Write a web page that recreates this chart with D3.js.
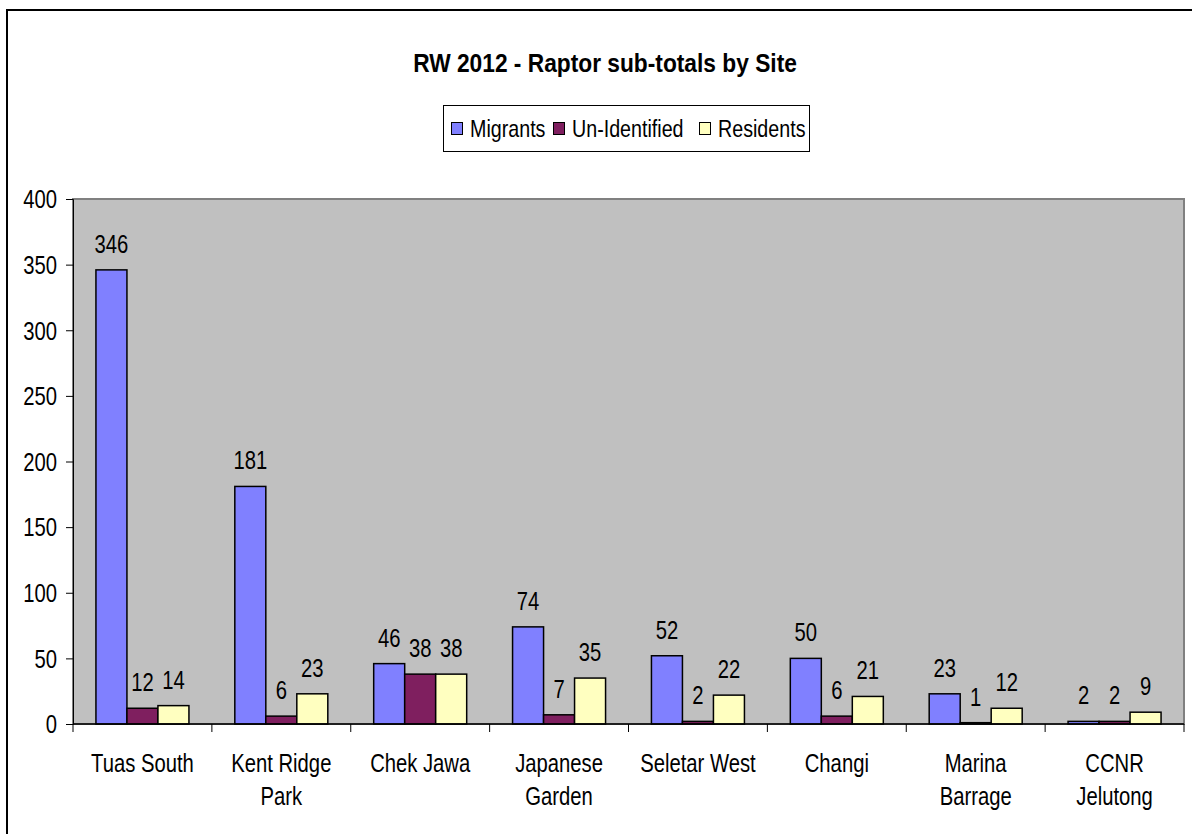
<!DOCTYPE html>
<html>
<head>
<meta charset="utf-8">
<script src="https://cdn.jsdelivr.net/npm/d3@7"></script>
<style>
  body { margin: 0; background: #fff; }
  svg text { font-family: "Liberation Sans", Arial, sans-serif; fill: #000; }
</style>
</head>
<body>
<svg id="chart" width="1192" height="834"></svg>
<script>
// sites, each one a group of three bars
const sites = [
  ["Tuas South"], ["Kent Ridge", "Park"], ["Chek Jawa"], ["Japanese", "Garden"],
  ["Seletar West"], ["Changi"], ["Marina", "Barrage"], ["CCNR", "Jelutong"]
];
const seriesNames = ["Migrants", "Un-Identified", "Residents"];
const seriesColors = ["#8080ff", "#7f1f5f", "#ffffc0"];
const migrants = [346, 181, 46, 74, 52, 50, 23, 2];
const unidentified = [12, 6, 38, 7, 2, 6, 1, 2];
const residents = [14, 23, 38, 35, 22, 21, 12, 9];
const yTicks = [0, 50, 100, 150, 200, 250, 300, 350, 400];

const seriesValues = [migrants, unidentified, residents];
const squeeze = 0.81; // the original font is a narrow Arial

// puts a text at x,y squeezed sideways
function narrowText(sel, x, y, sq) {
  return sel.attr("x", 0).attr("y", 0)
    .attr("transform", `translate(${x},${y}) scale(${sq || squeeze},1)`);
}

function drawChart() {
  const svg = d3.select("#chart");
  const left = 73, right = 1184, top = 199, bottom = 724;

  // outer chart border (right/bottom edges fall outside the picture)
  svg.append("rect")
    .attr("x", 7).attr("y", 10)
    .attr("width", 1200).attr("height", 900)
    .attr("fill", "none").attr("stroke", "#000").attr("stroke-width", 2);

  narrowText(svg.append("text"), 605, 72, 0.91)
    .attr("text-anchor", "middle")
    .attr("font-size", 25).attr("font-weight", "bold")
    .text("RW 2012 - Raptor sub-totals by Site");

  // legend
  const leg = svg.append("g");
  leg.append("rect")
    .attr("x", 443.5).attr("y", 105.5).attr("width", 366).attr("height", 46)
    .attr("fill", "#fff").attr("stroke", "#000");
  const legX = [451, 553, 699];
  seriesNames.forEach((name, i) => {
    leg.append("rect")
      .attr("x", legX[i] + 0.5).attr("y", 122.5).attr("width", 11).attr("height", 12)
      .attr("fill", seriesColors[i]).attr("stroke", "#000");
    narrowText(leg.append("text"), legX[i] + 19, 137, 0.82)
      .attr("font-size", 24)
      .text(name);
  });

  const x0 = d3.scaleBand().domain(d3.range(sites.length)).range([left, right]);
  const x1 = d3.scaleBand().domain(d3.range(seriesNames.length))
    .range([0, x0.bandwidth()]).paddingOuter(0.74);
  const y = d3.scaleLinear().domain([0, 400]).range([bottom, top]);

  // plot area
  svg.append("rect")
    .attr("x", left).attr("y", top)
    .attr("width", right - left).attr("height", bottom - top)
    .attr("fill", "#c0c0c0").attr("stroke", "#808080").attr("stroke-width", 2);

  // y axis
  const yAxis = svg.append("g")
    .attr("transform", `translate(${left},0)`)
    .call(d3.axisLeft(y).tickValues(yTicks).tickSize(7).tickPadding(8));
  yAxis.select(".domain").attr("stroke", "#000");
  yAxis.selectAll("text")
    .attr("font-size", 25).attr("font-family", null)
    .attr("x", -16 / squeeze).attr("dy", "0.35em")
    .attr("transform", `scale(${squeeze},1)`);

  // bars
  const groups = svg.append("g").selectAll("g")
    .data(sites.map((s, i) => i))
    .join("g")
    .attr("transform", i => `translate(${x0(i)},0)`);

  groups.selectAll("rect")
    .data(i => seriesValues.map((vals, s) => ({ s: s, v: vals[i] })))
    .join("rect")
    .attr("x", d => x1(d.s))
    .attr("y", d => y(d.v))
    .attr("width", x1.bandwidth())
    .attr("height", d => bottom - y(d.v))
    .attr("fill", d => seriesColors[d.s])
    .attr("stroke", "#000").attr("stroke-width", 1.5);

  groups.selectAll("text")
    .data(i => seriesValues.map((vals, s) => ({ s: s, v: vals[i] })))
    .join("text")
    .each(function (d) {
      narrowText(d3.select(this), x1(d.s) + x1.bandwidth() / 2, y(d.v) - 17);
    })
    .attr("text-anchor", "middle")
    .attr("font-size", 25)
    .text(d => d.v);

  // x axis with ticks at category boundaries
  const xAxis = svg.append("g");
  xAxis.append("line")
    .attr("x1", left).attr("x2", right)
    .attr("y1", bottom).attr("y2", bottom)
    .attr("stroke", "#000").attr("stroke-width", 1.5);
  xAxis.selectAll("line.tick")
    .data(d3.range(sites.length + 1))
    .join("line")
    .attr("class", "tick")
    .attr("x1", i => left + i * x0.step()).attr("x2", i => left + i * x0.step())
    .attr("y1", bottom).attr("y2", bottom + 8)
    .attr("stroke", "#000");

  const labels = xAxis.selectAll("text")
    .data(sites)
    .join("text")
    .each(function (d, i) {
      narrowText(d3.select(this), x0(i) + x0.bandwidth() / 2, 772);
    })
    .attr("text-anchor", "middle")
    .attr("font-size", 25);
  labels.selectAll("tspan")
    .data(d => d)
    .join("tspan")
    .attr("x", 0)
    .attr("dy", (d, i) => i === 0 ? 0 : 33)
    .text(d => d);
}

window.addEventListener("DOMContentLoaded", drawChart);
</script>
</body>
</html>
